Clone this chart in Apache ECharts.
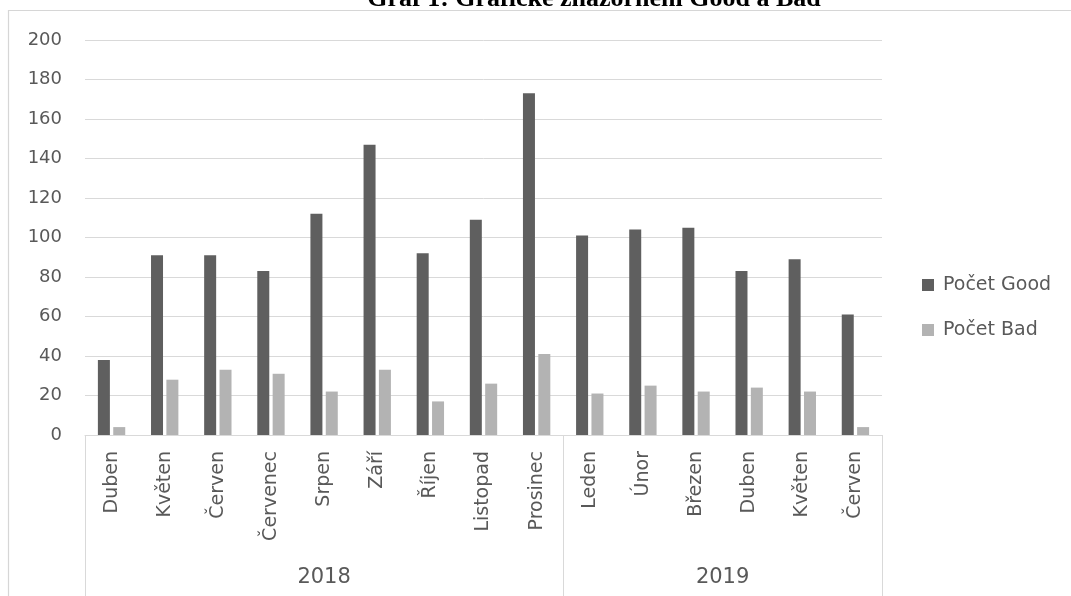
<!DOCTYPE html>
<html>
<head>
<meta charset="utf-8">
<script src="https://cdn.jsdelivr.net/npm/echarts@6/dist/echarts.min.js"></script>
<style>
html,body{margin:0;padding:0;background:#fff;}
#chart{width:1071px;height:596px;}
</style>
</head>
<body>
<div id="chart"></div>
<script>
var titleText = 'Graf 1: Grafické znázornění Good a Bad';
var months = ['Duben','Květen','Červen','Červenec','Srpen','Září','Říjen','Listopad','Prosinec','Leden','Únor','Březen','Duben','Květen','Červen'];
var years = ['2018','2019'];
var yearSpans = [9, 6];
var seriesNames = ['Počet Good','Počet Bad'];
var good = [38,91,91,83,112,147,92,109,173,101,104,105,83,89,61];
var bad = [4,28,33,31,22,33,17,26,41,21,25,22,24,22,4];
var yMin = 0, yMax = 200, yStep = 20;

var bounds = [0], centers = [];
(function(){
  var acc = 0;
  for (var i = 0; i < yearSpans.length; i++) {
    centers.push(acc + yearSpans[i] / 2);
    acc += yearSpans[i];
    bounds.push(acc);
  }
})();

var chart = echarts.init(document.getElementById('chart'), null, {renderer:'canvas'});
var labelColor = '#595959';
var font = 'DejaVu Sans';
chart.setOption({
  animation: false,
  backgroundColor: '#ffffff',
  title: {
    text: titleText,
    left: 594,
    textAlign: 'center',
    top: -14,
    padding: 0,
    textStyle: {fontFamily: 'Liberation Serif', fontWeight: 'bold', fontSize: 26, color: '#000000'}
  },
  graphic: [{
    type: 'rect', silent: true, z: -1,
    shape: {x: 8.5, y: 10.5, width: 1200, height: 800},
    style: {fill: 'none', stroke: '#d6d6d6', lineWidth: 1.2}
  }],
  legend: {
    orient: 'vertical',
    left: 922,
    top: 275,
    padding: 0,
    itemWidth: 12,
    itemHeight: 12,
    itemGap: 25,
    icon: 'rect',
    data: seriesNames,
    textStyle: {fontFamily: font, fontSize: 19, color: labelColor, lineHeight: 20, padding: [0,0,0,4]}
  },
  grid: {left: 85, right: 189, top: 40, bottom: 161, containLabel: false},
  xAxis: [{
    type: 'category',
    data: months,
    position: 'bottom',
    axisLine: {show: true, lineStyle: {color: '#d9d9d9', width: 1}},
    axisTick: {show: false},
    axisLabel: {interval: 0, rotate: 90, margin: 16, fontFamily: font, fontSize: 19, color: labelColor}
  }, {
    type: 'value',
    min: 0,
    max: bounds[bounds.length - 1],
    position: 'bottom',
    axisLine: {show: false},
    splitLine: {show: false},
    axisTick: {show: true, customValues: bounds, length: 170, lineStyle: {color: '#d9d9d9', width: 1}},
    axisLabel: {
      show: true, customValues: centers, margin: 132,
      fontFamily: font, fontSize: 21, color: labelColor,
      formatter: function (v) {
        for (var i = 0; i < centers.length; i++) if (Math.abs(centers[i] - v) < 1e-6) return years[i];
        return '';
      }
    }
  }],
  yAxis: {
    type: 'value',
    min: yMin, max: yMax, interval: yStep,
    axisLine: {show: false},
    axisTick: {show: false},
    splitLine: {lineStyle: {color: '#d9d9d9', width: 1}},
    axisLabel: {margin: 23, fontFamily: font, fontSize: 18, color: labelColor}
  },
  series: [{
    name: seriesNames[0], type: 'bar', xAxisIndex: 0, data: good,
    barWidth: 12, barGap: '28%',
    itemStyle: {color: '#5f5f5f'}
  }, {
    name: seriesNames[1], type: 'bar', xAxisIndex: 0, data: bad,
    barWidth: 12, barGap: '28%',
    itemStyle: {color: '#b3b3b3'}
  }]
});
</script>
</body>
</html>
